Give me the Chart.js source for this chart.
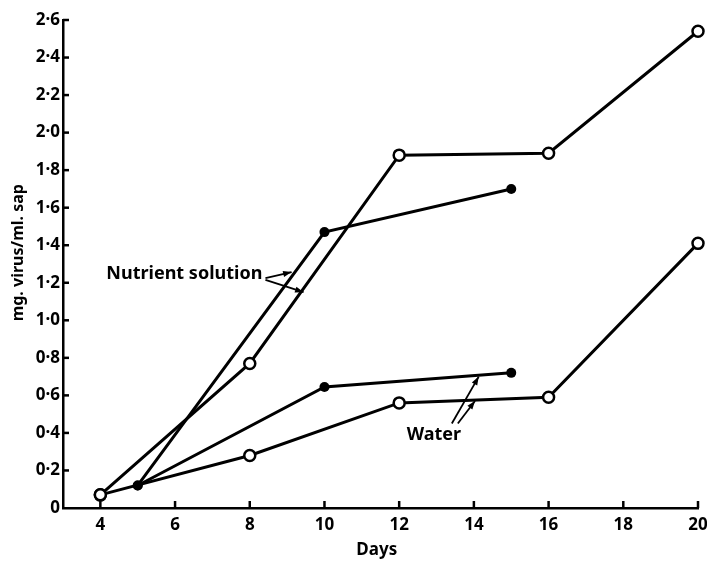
<!DOCTYPE html>
<html>
<head>
<meta charset="utf-8">
<script src="https://cdn.jsdelivr.net/npm/chart.js@4"></script>
<style>
  html, body { margin: 0; padding: 0; background: #fff; }
  #wrap { width: 707px; height: 562px; }
</style>
</head>
<body>
<div id="wrap"><canvas id="chart"></canvas></div>
<script>
const xTicks = [4, 6, 8, 10, 12, 14, 16, 18, 20];
const yTicks = [0, 0.2, 0.4, 0.6, 0.8, 1.0, 1.2, 1.4, 1.6, 1.8, 2.0, 2.2, 2.4, 2.6];

// nutrient solution
const nutrientOpenDays = [4, 8, 12, 16, 20];
const nutrientOpen = [0.07, 0.77, 1.88, 1.89, 2.54];
const nutrientFilledDays = [5, 10, 15];
const nutrientFilled = [0.12, 1.47, 1.70];

// water
const waterFilledDays = [5, 10, 15];
const waterFilled = [0.12, 0.645, 0.72];
const waterOpenDays = [4, 8, 12, 16, 20];
const waterOpen = [0.07, 0.28, 0.56, 0.59, 1.41];

const FONT = '"Noto Sans", "DejaVu Sans", sans-serif';

const toPoints = (days, vals) => days.map((d, i) => ({ x: d, y: vals[i] }));

const openStyle = {
    borderColor: '#000', borderWidth: 3,
    pointRadius: 5.5, pointBorderWidth: 2.5,
    pointBackgroundColor: '#fff', pointBorderColor: '#000',
    showLine: true, tension: 0
};
const filledStyle = {
    borderColor: '#000', borderWidth: 3,
    pointRadius: 5, pointBorderWidth: 0,
    pointBackgroundColor: '#000', pointBorderColor: '#000',
    showLine: true, tension: 0
};

// labels with arrows, anchored in data units
const notes = [
    { text: 'Nutrient solution', x: 4.16, y: 1.25, arrows: [[8.42, 1.225, 9.12, 1.257], [8.42, 1.215, 9.44, 1.15]] },
    { text: 'Water', x: 12.2, y: 0.39, arrows: [[13.41, 0.45, 14.13, 0.70], [13.57, 0.45, 14.03, 0.57]] }
];

const arrowHead = (ctx, x1, y1, x2, y2) => {
    const a = Math.atan2(y2 - y1, x2 - x1);
    const len = 9, w = 0.35;
    ctx.beginPath();
    ctx.moveTo(x2, y2);
    ctx.lineTo(x2 - len * Math.cos(a - w), y2 - len * Math.sin(a - w));
    ctx.lineTo(x2 - len * Math.cos(a + w), y2 - len * Math.sin(a + w));
    ctx.closePath();
    ctx.fill();
};

const decorPlugin = {
    id: 'decor',
    afterDatasetsDraw(chart) {
        const ctx = chart.ctx;
        const xs = chart.scales.x, ys = chart.scales.y;
        ctx.save();
        ctx.strokeStyle = '#000';
        ctx.fillStyle = '#000';
        ctx.lineWidth = 2.5;
        // inward ticks
        const left = xs.left, bottom = ys.bottom;
        yTicks.forEach(v => {
            if (v === 0) return;
            const py = ys.getPixelForValue(v);
            ctx.beginPath(); ctx.moveTo(left, py); ctx.lineTo(left + 6, py); ctx.stroke();
        });
        xTicks.forEach(v => {
            const px = xs.getPixelForValue(v);
            ctx.beginPath(); ctx.moveTo(px, bottom); ctx.lineTo(px, bottom - 7); ctx.stroke();
        });
        // axis titles
        ctx.font = 'bold 17px ' + FONT;
        ctx.textAlign = 'center';
        ctx.textBaseline = 'middle';
        ctx.fillText('Days', xs.getPixelForValue(11.4), bottom + 42);
        ctx.save();
        ctx.translate(18, ys.getPixelForValue(1.36));
        ctx.rotate(-Math.PI / 2);
        ctx.font = 'bold 16px ' + FONT;
        ctx.fillText('mg. virus/ml. sap', 0, 0);
        ctx.restore();
        // notes
        ctx.font = 'bold 18px ' + FONT;
        ctx.textBaseline = 'middle';
        ctx.textAlign = 'left';
        notes.forEach(n => {
            ctx.fillText(n.text, xs.getPixelForValue(n.x), ys.getPixelForValue(n.y));
            ctx.lineWidth = 1.8;
            n.arrows.forEach(a => {
                const x1 = xs.getPixelForValue(a[0]), y1 = ys.getPixelForValue(a[1]);
                const x2 = xs.getPixelForValue(a[2]), y2 = ys.getPixelForValue(a[3]);
                ctx.beginPath(); ctx.moveTo(x1, y1); ctx.lineTo(x2, y2); ctx.stroke();
                arrowHead(ctx, x1, y1, x2, y2);
            });
        });
        ctx.restore();
    }
};

new Chart(document.getElementById('chart'), {
    type: 'scatter',
    data: {
        datasets: [
            { label: 'Nutrient (open)', data: toPoints(nutrientOpenDays, nutrientOpen), ...openStyle },
            { label: 'Nutrient (filled)', data: toPoints(nutrientFilledDays, nutrientFilled), ...filledStyle },
            { label: 'Water (filled)', data: toPoints(waterFilledDays, waterFilled), ...filledStyle },
            { label: 'Water (open)', data: toPoints(waterOpenDays, waterOpen), ...openStyle }
        ]
    },
    options: {
        responsive: true,
        maintainAspectRatio: false,
        animation: false,
        clip: false,
        layout: { padding: { left: 0, right: 9, top: 20, bottom: 0 } },
        plugins: { legend: { display: false }, tooltip: { enabled: false } },
        scales: {
            x: {
                type: 'linear', min: 3, max: 20,
                afterBuildTicks: s => { s.ticks = xTicks.map(v => ({ value: v })); },
                afterFit: s => { s.height = 54; s.paddingRight = 0; s.paddingLeft = 0; },
                grid: { display: false, drawTicks: false },
                border: { display: true, color: '#000', width: 2.5 },
                ticks: { color: '#000', padding: 7, maxRotation: 0, autoSkip: false,
                         font: { family: FONT, weight: 'bold', size: 17 } },
                title: { display: false }
            },
            y: {
                min: 0, max: 2.6,
                afterBuildTicks: s => { s.ticks = yTicks.map(v => ({ value: v })); },
                afterFit: s => { s.width = 63; },
                grid: { display: false, drawTicks: false },
                border: { display: true, color: '#000', width: 2.5 },
                ticks: { color: '#000', padding: 3, autoSkip: false,
                         callback: v => v === 0 ? '0' : v.toFixed(1).replace('.', '\u00b7'),
                         font: { family: FONT, weight: 'bold', size: 17 } },
                title: { display: false }
            }
        }
    },
    plugins: [decorPlugin]
});
</script>
</body>
</html>
